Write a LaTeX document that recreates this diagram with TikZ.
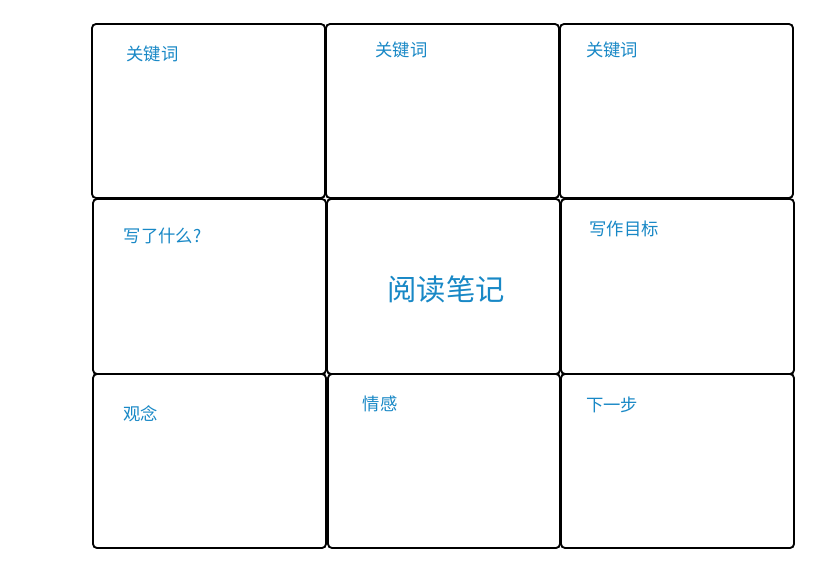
\documentclass[tikz,border=0pt]{standalone}
\usepackage{fontspec}
\newfontfamily\cjk{Noto Sans CJK SC}
\definecolor{lbl}{RGB}{24,136,198}
\tikzset{
  cell/.style={draw=black, line width=1.4pt, rounded corners=3pt, fill=white},
  small/.style={text=lbl, font=\cjk\fontsize{13pt}{15pt}\selectfont, inner sep=0pt},
  big/.style={text=lbl, font=\cjk\fontsize{22pt}{26pt}\selectfont, inner sep=0pt}
}
\begin{document}
\begin{tikzpicture}[x=0.75pt,y=-0.75pt]
\useasboundingbox (0,0) rectangle (814,568);
% row 1
\draw[cell] (92,24) rectangle (325,198);
\draw[cell] (326,24) rectangle (559,198);
\draw[cell] (560,24) rectangle (793,198);
% row 2
\draw[cell] (93,199) rectangle (326,374);
\draw[cell] (327,199) rectangle (560,374);
\draw[cell] (561,199) rectangle (794,374);
% row 3
\draw[cell] (93,374) rectangle (326,548);
\draw[cell] (328,374) rectangle (560,548);
\draw[cell] (561,374) rectangle (794,548);
% labels
\node[small] (k1) at (152.5,54) {关键词};
\node[small] (k2) at (401.5,50) {关键词};
\node[small] (k3) at (612,50) {关键词};
\node[small] (w1) at (162.5,236) {写了什么?};
\node[big] (c) at (446,289) {阅读笔记};
\node[small] (w2) at (624,229) {写作目标};
\node[small] (g) at (140.5,414) {观念};
\node[small] (q) at (380,404) {情感};
\node[small] (n) at (612,405) {下一步};
\end{tikzpicture}
\end{document}
